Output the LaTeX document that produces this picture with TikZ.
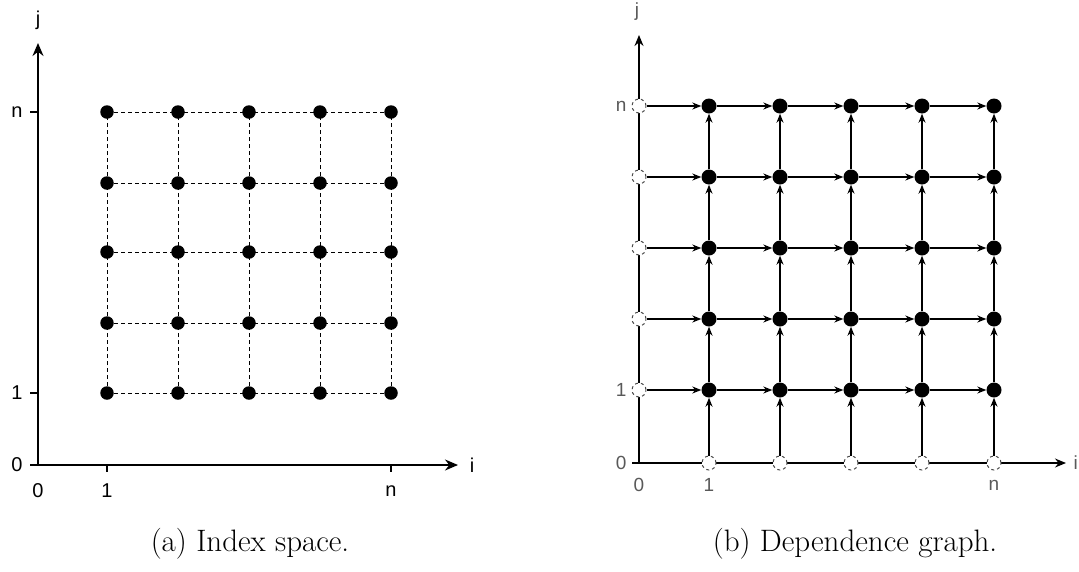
\documentclass[tikz,border=0pt]{standalone}
\usepackage{fontspec}
\newfontfamily\axfont{Liberation Sans}
\usetikzlibrary{arrows.meta}
\begin{document}
\begin{tikzpicture}[x=1pt,y=-1pt,
  axis/.style={line width=1.5pt,-{Stealth[length=13pt,width=11pt]}},
  axisb/.style={line width=1.4pt,-{Stealth[length=11pt,width=9pt]}},
  gridline/.style={line width=1pt,dash pattern=on 4pt off 3pt},
  dot/.style={circle,fill=black,inner sep=0pt,minimum size=13.5pt},
  bdot/.style={circle,fill=black,inner sep=0pt,minimum size=15pt},
  hollow/.style={circle,draw=black!70,fill=white,line width=1pt,dash pattern=on 3pt off 3pt,inner sep=0pt,minimum size=14pt},
  dep/.style={line width=1.3pt,-{Stealth[length=9pt,width=7pt]}},
  lbl/.style={font=\axfont\fontsize{20}{22}\selectfont},
  glbl/.style={font=\axfont\fontsize{19}{21}\selectfont,text=black!65},
  captext/.style={font=\fontsize{31}{35}\selectfont}]
\useasboundingbox (0,0) rectangle (1079,571);

% ---------- (a) Index space ----------
\coordinate (o) at (38,465);
\coordinate (ytop) at (38,43);
\coordinate (xend) at (458,465);
\draw[axis] (o) -- (ytop);
\draw[axis] (o) -- (xend);
\node[lbl] (jlab) at (38,20) {j};
\node[lbl] (ilab) at (472,465) {i};
% y ticks
\draw[line width=1.3pt] (30,112) -- (38,112);
\draw[line width=1.3pt] (30,393) -- (38,393);
\draw[line width=1.3pt] (30,465) -- (38,465);
\node[lbl,anchor=east] (yn) at (26,112) {n};
\node[lbl,anchor=east] (y1) at (26,393) {1};
\node[lbl,anchor=east] (y0) at (26,465) {0};
% x ticks
\draw[line width=1.3pt] (107,465) -- (107,472);
\draw[line width=1.3pt] (391,465) -- (391,472);
\node[lbl] (x0) at (38,491) {0};
\node[lbl] (x1) at (107,491) {1};
\node[lbl] (xn) at (391,491) {n};
% grid
\foreach \i/\x in {1/107,2/178,3/249,4/320,5/391}{
  \foreach \j/\y in {1/393,2/323,3/252,4/183,5/112}{
    \coordinate (a\i\j) at (\x,\y);
  }
}
\foreach \j in {1,...,5}{\draw[gridline] (a1\j) -- (a5\j);}
\foreach \i in {1,...,5}{\draw[gridline] (a\i1) -- (a\i5);}
\foreach \i in {1,...,5}{\foreach \j in {1,...,5}{\node[dot] (da\i\j) at (a\i\j) {};}}
\node[captext] (capa) at (250,544) {(a) Index space.};

% ---------- (b) Dependence graph ----------
\coordinate (ob) at (639,463);
\coordinate (ybtop) at (639,35);
\coordinate (xbend) at (1066,463);
\draw[axisb] (ob) -- (ybtop);
\draw[axisb] (ob) -- (xbend);
\node[glbl] (jb) at (637,12) {j};
\node[glbl,anchor=east,inner sep=1pt] (ib) at (1079,463) {i};
\draw[line width=1.1pt] (632,463) -- (639,463);
\node[glbl,anchor=east] (yb0) at (630,463) {0};
\node[glbl,anchor=east] (yb1) at (630,390) {1};
\node[glbl,anchor=east] (ybn) at (630,106) {n};
\node[glbl] (xb0) at (639,485) {0};
\node[glbl] (xb1) at (709,485) {1};
\node[glbl] (xbn) at (994,485) {n};
\foreach \i/\x in {1/709,2/780,3/851,4/922,5/994}{
  \node[hollow] (hb\i) at (\x,463) {};
  \foreach \j/\y in {1/390,2/319,3/248,4/177,5/106}{
    \node[bdot] (b\i\j) at (\x,\y) {};
  }
}
\foreach \j/\y in {1/390,2/319,3/248,4/177,5/106}{
  \node[hollow] (hl\j) at (639,\y) {};
}
% arrows from boundary
\foreach \i in {1,...,5}{\draw[dep] (hb\i) -- (b\i1);}
\foreach \j in {1,...,5}{\draw[dep] (hl\j) -- (b1\j);}
% inner arrows
\foreach \i [evaluate=\i as \ni using int(\i+1)] in {1,...,4}{
  \foreach \j in {1,...,5}{\draw[dep] (b\i\j) -- (b\ni\j);}
}
\foreach \j [evaluate=\j as \nj using int(\j+1)] in {1,...,4}{
  \foreach \i in {1,...,5}{\draw[dep] (b\i\j) -- (b\i\nj);}
}
\node[captext] (capb) at (855,544) {(b) Dependence graph.};
\end{tikzpicture}
\end{document}
